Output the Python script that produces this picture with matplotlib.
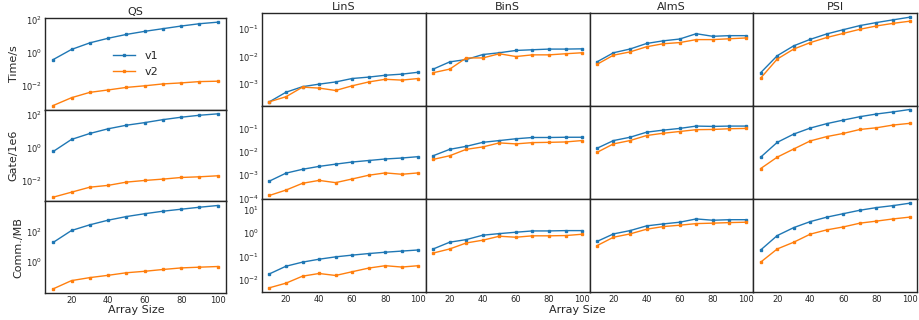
import numpy as np
import matplotlib
matplotlib.use('Agg')
import matplotlib.pyplot as plt

# array sizes
sizes = [10, 20, 30, 40, 50, 60, 70, 80, 90, 100]
versions = ['v1', 'v2']
methods = ['QS', 'LinS', 'BinS', 'AlmS', 'PSI']
metrics = ['Time/s', 'Gate/1e6', 'Comm./MB']

# QS
qs_time_v1 = [0.39, 1.6, 4.0, 7.6, 13, 20, 29, 42, 58, 72]
qs_time_v2 = [6.4e-4, 1.9e-3, 4.0e-3, 5.6e-3, 8.0e-3, 1.0e-2, 1.3e-2, 1.5e-2, 1.8e-2, 1.9e-2]
qs_gate_v1 = [0.6, 3.2, 7.3, 14, 23, 33, 50, 70, 92, 112]
qs_gate_v2 = [1.05e-3, 2.1e-3, 4.2e-3, 5.4e-3, 8.5e-3, 1.07e-2, 1.29e-2, 1.62e-2, 1.78e-2, 2.05e-2]
qs_comm_v1 = [21, 130, 310, 630, 1100, 1700, 2500, 3400, 4600, 6000]
qs_comm_v2 = [0.017, 0.06, 0.095, 0.135, 0.2, 0.25, 0.33, 0.42, 0.47, 0.52]

# LinS
lins_time_v1 = [2.3e-4, 5.1e-4, 8.1e-4, 1.0e-3, 1.2e-3, 1.6e-3, 1.8e-3, 2.1e-3, 2.3e-3, 2.7e-3]
lins_time_v2 = [2.3e-4, 3.5e-4, 7.8e-4, 7.2e-4, 5.9e-4, 8.7e-4, 1.2e-3, 1.5e-3, 1.4e-3, 1.6e-3]
lins_gate_v1 = [5.6e-4, 1.23e-3, 1.8e-3, 2.4e-3, 3.0e-3, 3.7e-3, 4.3e-3, 5.0e-3, 5.5e-3, 6.3e-3]
lins_gate_v2 = [1.35e-4, 2.3e-4, 4.5e-4, 6.0e-4, 4.8e-4, 6.9e-4, 1.0e-3, 1.26e-3, 1.1e-3, 1.26e-3]
lins_comm_v1 = [0.0178, 0.038, 0.057, 0.076, 0.096, 0.114, 0.133, 0.152, 0.17, 0.19]
lins_comm_v2 = [4.5e-3, 7.1e-3, 0.0142, 0.0185, 0.0152, 0.022, 0.0316, 0.04, 0.035, 0.04]

# BinS
bins_time_v1 = [3.5e-3, 6.4e-3, 7.8e-3, 0.0118, 0.0137, 0.0166, 0.0176, 0.0186, 0.0186, 0.019]
bins_time_v2 = [2.6e-3, 3.5e-3, 8.9e-3, 8.9e-3, 0.0126, 0.010, 0.0115, 0.0115, 0.0126, 0.0137]
bins_gate_v1 = [6.9e-3, 0.013, 0.0175, 0.026, 0.031, 0.037, 0.042, 0.042, 0.043, 0.043]
bins_gate_v2 = [4.8e-3, 6.9e-3, 0.013, 0.0165, 0.0246, 0.0223, 0.0253, 0.026, 0.027, 0.031]
bins_comm_v1 = [0.21, 0.41, 0.53, 0.82, 0.96, 1.1, 1.25, 1.25, 1.29, 1.29]
bins_comm_v2 = [0.14, 0.21, 0.38, 0.50, 0.74, 0.67, 0.77, 0.77, 0.79, 0.9]

# AlmS
alms_time_v1 = [6.4e-3, 0.0137, 0.0187, 0.0297, 0.037, 0.043, 0.067, 0.054, 0.057, 0.057]
alms_time_v2 = [5.2e-3, 0.0112, 0.0147, 0.0226, 0.029, 0.032, 0.041, 0.041, 0.044, 0.047]
alms_gate_v1 = [0.0144, 0.031, 0.043, 0.071, 0.087, 0.103, 0.13, 0.126, 0.13, 0.13]
alms_gate_v2 = [9.6e-3, 0.0223, 0.031, 0.051, 0.064, 0.076, 0.091, 0.093, 0.10, 0.103]
alms_comm_v1 = [0.44, 0.93, 1.29, 2.06, 2.5, 2.96, 4.1, 3.6, 3.8, 3.8]
alms_comm_v2 = [0.29, 0.67, 0.93, 1.48, 1.92, 2.2, 2.58, 2.7, 2.85, 2.96]

# PSI
psi_time_v1 = [2.6e-3, 0.0107, 0.0245, 0.042, 0.066, 0.094, 0.132, 0.17, 0.213, 0.265]
psi_time_v2 = [1.66e-3, 8.1e-3, 0.0187, 0.032, 0.049, 0.069, 0.097, 0.128, 0.159, 0.19]
psi_gate_v1 = [6.0e-3, 0.026, 0.059, 0.107, 0.166, 0.236, 0.33, 0.43, 0.53, 0.67]
psi_gate_v2 = [1.94e-3, 6.0e-3, 0.0135, 0.030, 0.046, 0.063, 0.093, 0.11, 0.144, 0.17]
psi_comm_v1 = [0.19, 0.79, 1.74, 3.15, 4.9, 6.9, 9.7, 12.6, 15.3, 19.4]
psi_comm_v2 = [0.057, 0.21, 0.41, 0.91, 1.39, 1.86, 2.7, 3.3, 4.1, 4.9]

data = {
    'QS': [(qs_time_v1, qs_time_v2), (qs_gate_v1, qs_gate_v2), (qs_comm_v1, qs_comm_v2)],
    'LinS': [(lins_time_v1, lins_time_v2), (lins_gate_v1, lins_gate_v2), (lins_comm_v1, lins_comm_v2)],
    'BinS': [(bins_time_v1, bins_time_v2), (bins_gate_v1, bins_gate_v2), (bins_comm_v1, bins_comm_v2)],
    'AlmS': [(alms_time_v1, alms_time_v2), (alms_gate_v1, alms_gate_v2), (alms_comm_v1, alms_comm_v2)],
    'PSI': [(psi_time_v1, psi_time_v2), (psi_gate_v1, psi_gate_v2), (psi_comm_v1, psi_comm_v2)],
}
colors = ['#1f77b4', '#ff7f0e']

# axis limits / ticks
qs_comm_ticks = [1, 100]
right_ylims = [None, (9.5e-5, 0.95), None]

plt.rcParams['font.family'] = 'DejaVu Sans'
plt.rcParams['axes.edgecolor'] = '.15'
plt.rcParams['axes.linewidth'] = 1.0
plt.rcParams['xtick.color'] = '.15'
plt.rcParams['ytick.color'] = '.15'
plt.rcParams['text.color'] = '.15'
plt.rcParams['axes.labelcolor'] = '.15'


def style_ax(ax):
    ax.set_yscale('log')
    ax.tick_params(which='both', length=0, pad=2, labelsize=6)
    ax.set_xticks([20, 40, 60, 80, 100])


def draw(ax, series):
    for vals, c, lab in zip(series, colors, versions):
        ax.plot(sizes, vals, color=c, lw=1.0, marker='s', markersize=1.8, label=lab)


fig = plt.figure(figsize=(9.19, 3.2), dpi=100)

# left block: QS
gs_l = fig.add_gridspec(3, 1, left=45/919, right=226/919, top=1-18/320, bottom=1-293/320, hspace=0)
for r in range(3):
    ax = fig.add_subplot(gs_l[r, 0])
    style_ax(ax)
    draw(ax, data['QS'][r])
    ax.set_ylabel(metrics[r], fontsize=8, labelpad=2)
    if r == 0:
        ax.set_title('QS', fontsize=8, pad=2)
        ax.legend(frameon=False, loc='center', fontsize=8, handlelength=2.0)
    if r == 2:
        ax.set_yticks(qs_comm_ticks)
        ax.minorticks_off()
    if r < 2:
        ax.tick_params(labelbottom=False)

# right block: the rest, shared y per row
gs_r = fig.add_gridspec(3, 4, left=262/919, right=917/919, top=1-13/320, bottom=1-292/320,
                        hspace=0, wspace=0)
for r in range(3):
    first = None
    for c, m in enumerate(methods[1:]):
        ax = fig.add_subplot(gs_r[r, c], sharey=first)
        if first is None:
            first = ax
        style_ax(ax)
        draw(ax, data[m][r])
        if r == 0:
            ax.set_title(m, fontsize=8, pad=2)
        if r < 2:
            ax.tick_params(labelbottom=False)
        if c > 0:
            ax.tick_params(labelleft=False)
    if right_ylims[r] is not None:
        first.set_ylim(right_ylims[r])

fig.text(136/919, 1-310/320, 'Array Size', ha='center', va='center', fontsize=8)
fig.text(577/919, 1-310/320, 'Array Size', ha='center', va='center', fontsize=8)

fig.savefig('out.png', dpi=100)
